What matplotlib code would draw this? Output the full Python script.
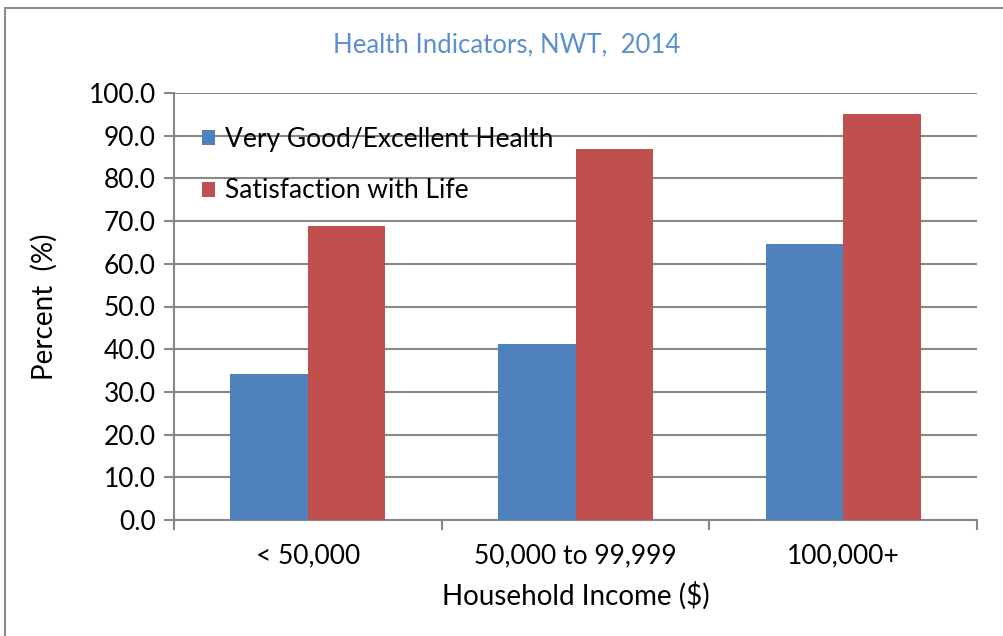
import matplotlib.pyplot as plt
import matplotlib.patches as mpatches
import numpy as np

categories = ["< 50,000", "50,000 to 99,999", "100,000+"]
health = [34.3, 41.3, 64.7]
satisfaction = [68.9, 87.0, 95.0]
series_names = ["Very Good/Excellent Health", "Satisfaction with Life"]

blue = "#4F81BD"
red = "#C0504D"
grey = "#878787"

plt.rcParams['font.family'] = ['Lato', 'DejaVu Sans']

fig = plt.figure(figsize=(10.04, 6.36), dpi=100)
ax = fig.add_axes([174 / 1004, 1 - 520 / 636, 803 / 1004, 427 / 636])

# frame around the whole chart
fig.patches.append(mpatches.Rectangle((5 / 1004, -0.01), 1.0, 1 - 8 / 636 + 0.01,
                                      transform=fig.transFigure, fill=False,
                                      edgecolor="#8c8c8c", linewidth=1.5))

x = np.arange(len(categories)) + 0.5
w = 0.29
ax.bar(x - w / 2, health, w, color=blue, label=series_names[0], zorder=3)
ax.bar(x + w / 2, satisfaction, w, color=red, label=series_names[1], zorder=3)

ax.set_xlim(0, 3)
ax.set_ylim(0, 100)
ax.set_yticks(np.arange(0, 101, 10))
ax.set_yticklabels([f"{v:.1f}" for v in np.arange(0, 101, 10)], fontsize=19)
ax.yaxis.grid(True, color=grey, linewidth=1.5, zorder=0)

ax.set_xticks([0, 1, 2, 3])
ax.set_xticklabels([])
ax.set_xticks(x, minor=True)
ax.set_xticklabels(categories, minor=True, fontsize=19)
ax.tick_params(axis='x', which='minor', length=0, pad=17)
ax.tick_params(axis='x', which='major', length=7, width=1.5, color=grey)
ax.tick_params(axis='y', length=7, width=1.5, color=grey, pad=6)

for s in ["top", "right"]:
    ax.spines[s].set_visible(False)
for s in ["left", "bottom"]:
    ax.spines[s].set_color(grey)
    ax.spines[s].set_linewidth(1.5)

ax.set_ylabel("Percent  (%)", fontsize=20, labelpad=22)
ax.set_xlabel("Household Income ($)", fontsize=20, labelpad=9)
fig.text(507 / 1004, 1 - 45 / 636, "Health Indicators, NWT,  2014",
         color="#5B8FCF", fontsize=18.5, ha="center", va="center")

ax.legend(loc="upper left", bbox_to_anchor=(0.022, 0.945), frameon=False,
          fontsize=19, handlelength=0.5, handleheight=0.5, handletextpad=0.35,
          labelspacing=1.0, borderaxespad=0)

fig.savefig("out.png", dpi=100)
